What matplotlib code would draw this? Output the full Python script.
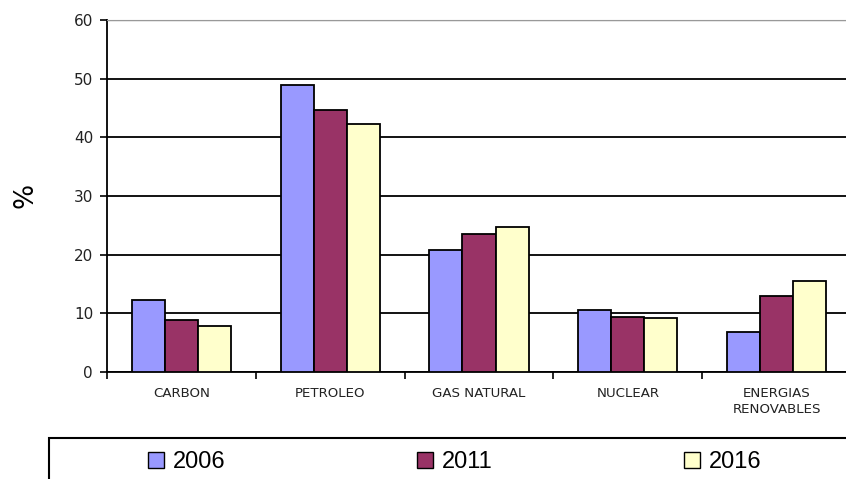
import matplotlib
matplotlib.use("Agg")
import matplotlib.pyplot as plt
import numpy as np
from matplotlib.patches import Rectangle

categories = ["CARBON", "PETROLEO", "GAS NATURAL", "NUCLEAR", "ENERGIAS\nRENOVABLES"]
years = ["2006", "2011", "2016"]
v2006 = [12.2, 49.0, 20.8, 10.5, 6.9]
v2011 = [8.9, 44.7, 23.5, 9.4, 12.9]
v2016 = [7.9, 42.3, 24.8, 9.2, 15.5]
yticks = [0, 10, 20, 30, 40, 50, 60]
colors = ["#9999FF", "#993366", "#FFFFCC"]

plt.rcParams['font.family'] = ['Liberation Sans', 'DejaVu Sans']

W, H = 846, 479
fig = plt.figure(figsize=(W / 100, H / 100), dpi=100)
left, right, top, bottom = 107, 851, 20, 372
ax = fig.add_axes([left / W, 1 - bottom / H, (right - left) / W, (bottom - top) / H])

x = np.arange(len(categories))
bw = 1 / 4.5
for i, (vals, yr, c) in enumerate(zip([v2006, v2011, v2016], years, colors)):
    ax.bar(x + (i - 1) * bw, vals, width=bw, color=c, edgecolor="black",
           linewidth=1.3, label=yr, zorder=3)

ax.set_xlim(-0.5, len(categories) - 0.5)
ax.set_ylim(0, 60)
ax.set_yticks(yticks)
ax.set_yticklabels([str(t) for t in yticks], fontsize=11, color="#222222",
                   family="DejaVu Sans")
ax.set_xticks(x)
ax.set_xticklabels(categories, fontsize=9.6, linespacing=1.3, family="DejaVu Sans",
                   color="#222222")
ax.tick_params(axis="x", length=0, pad=11)
ax.set_xticks(np.arange(len(categories) + 1) - 0.5, minor=True)
ax.tick_params(axis="x", which="minor", length=5, width=1.2, direction="out")
ax.tick_params(axis="y", length=5, width=1.2, direction="out", pad=5)

ax.grid(axis="y", color="black", linewidth=1.3, zorder=0)
ax.set_axisbelow(True)
for t in ax.yaxis.get_major_ticks():
    if t.get_loc() == 60:
        t.gridline.set_color("#999999")
        t.gridline.set_linewidth(1.0)

ax.spines["right"].set_visible(False)
ax.spines["top"].set_color("#999999")
ax.spines["left"].set_linewidth(1.3)
ax.spines["bottom"].set_linewidth(1.3)

ax.set_ylabel("%", fontsize=19, family="DejaVu Sans")
ax.yaxis.set_label_coords(-(left - 39) / (right - left), 1 - (195 - top) / (bottom - top))

# legend box
fig.patches.append(Rectangle((49 / W, -0.1), 1.0, (1 - 438 / H) + 0.1,
                             transform=fig.transFigure, fill=False,
                             edgecolor="black", linewidth=1.5))
leg = fig.legend(loc="center left", bbox_to_anchor=(148 / W, 1 - 462 / H), ncol=3,
                 frameon=False, fontsize=17, handlelength=0.68, handleheight=0.68,
                 handletextpad=0.38, columnspacing=8.1, borderpad=0, borderaxespad=0)
for p in leg.get_patches():
    p.set_linewidth(1.0)

fig.savefig("out.png", dpi=100)
